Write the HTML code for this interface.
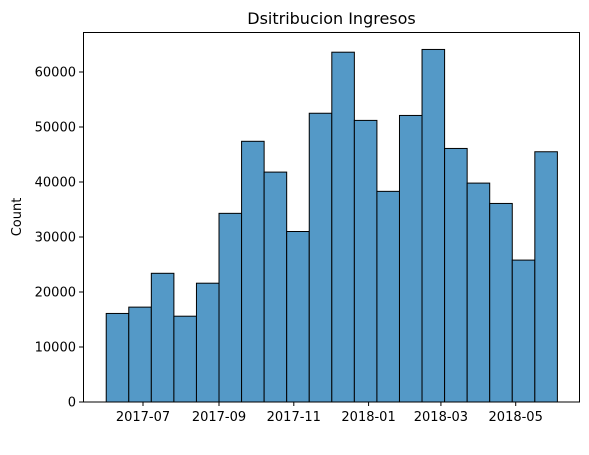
<!DOCTYPE html>
<html>
<head>
<meta charset="utf-8">
<style>
  html,body{margin:0;padding:0;background:#fff;}
  svg{display:block;font-family:"DejaVu Sans","Liberation Sans",sans-serif;}
</style>
</head>
<body>
<svg id="chart" width="589" height="455" viewBox="0 0 589 455" xmlns="http://www.w3.org/2000/svg">
  <rect width="589" height="455" fill="#fff"/>
  <text x="331.5" y="24" text-anchor="middle" font-size="16" fill="#000">Dsitribucion Ingresos</text>
  <text transform="translate(21,217) rotate(-90)" text-anchor="middle" font-size="13" fill="#000">Count</text>
  <g id="bars"></g>
  <g id="yaxis"></g>
  <g id="xaxis"></g>
  <rect x="83.5" y="32.5" width="496" height="369.5" fill="none" stroke="#000" stroke-width="1"/>
</svg>
<script>
const counts = [16100, 17250, 23400, 15600, 21600, 34300, 47400, 41800, 31000, 52500, 63600, 51200, 38300, 52100, 64100, 46100, 39800, 36100, 25800, 45500];
const yTicks = [0, 10000, 20000, 30000, 40000, 50000, 60000];
const xTickLabels = ["2017-07", "2017-09", "2017-11", "2018-01", "2018-03", "2018-05"];
const binStartDate = "2017-06-01";
const binEndDate = "2018-06-04";

const NS = "http://www.w3.org/2000/svg";
const day = 86400000;
const x0 = Date.parse("2017-07-01"), px0 = 143, pxPerDay = 1.226;
function xScale(ms){ return px0 + (ms - x0) / day * pxPerDay; }
function yScale(v){ return 402 - v / 10000 * 55; }

const bars = document.getElementById("bars");
const s = Date.parse(binStartDate), e = Date.parse(binEndDate);
const binW = (e - s) / counts.length;
counts.forEach((c, i) => {
  const xa = xScale(s + i * binW), xb = xScale(s + (i + 1) * binW);
  const r = document.createElementNS(NS, "rect");
  r.setAttribute("x", xa); r.setAttribute("width", xb - xa);
  r.setAttribute("y", yScale(c)); r.setAttribute("height", yScale(0) - yScale(c));
  r.setAttribute("fill", "#5499c7"); r.setAttribute("stroke", "#000"); r.setAttribute("stroke-width", "1");
  
  
  bars.appendChild(r);
});

const ya = document.getElementById("yaxis");
yTicks.forEach(t => {
  const y = yScale(t);
  const l = document.createElementNS(NS, "line");
  l.setAttribute("x1", 79); l.setAttribute("x2", 83); l.setAttribute("y1", y); l.setAttribute("y2", y);
  l.setAttribute("stroke", "#000");
  
  
  ya.appendChild(l);
  const tx = document.createElementNS(NS, "text");
  tx.setAttribute("x", 76); tx.setAttribute("y", y + 4.5);
  tx.setAttribute("text-anchor", "end"); tx.setAttribute("font-size", "13");
  tx.textContent = t;
  
  
  ya.appendChild(tx);
});

const xa = document.getElementById("xaxis");
xTickLabels.forEach(lbl => {
  const x = xScale(Date.parse(lbl + "-01"));
  const l = document.createElementNS(NS, "line");
  l.setAttribute("x1", x); l.setAttribute("x2", x); l.setAttribute("y1", 402); l.setAttribute("y2", 406);
  l.setAttribute("stroke", "#000");
  
  
  xa.appendChild(l);
  const tx = document.createElementNS(NS, "text");
  tx.setAttribute("x", x); tx.setAttribute("y", 421);
  tx.setAttribute("text-anchor", "middle"); tx.setAttribute("font-size", "13");
  tx.textContent = lbl;
  
  
  xa.appendChild(tx);
});
</script>
</body>
</html>
